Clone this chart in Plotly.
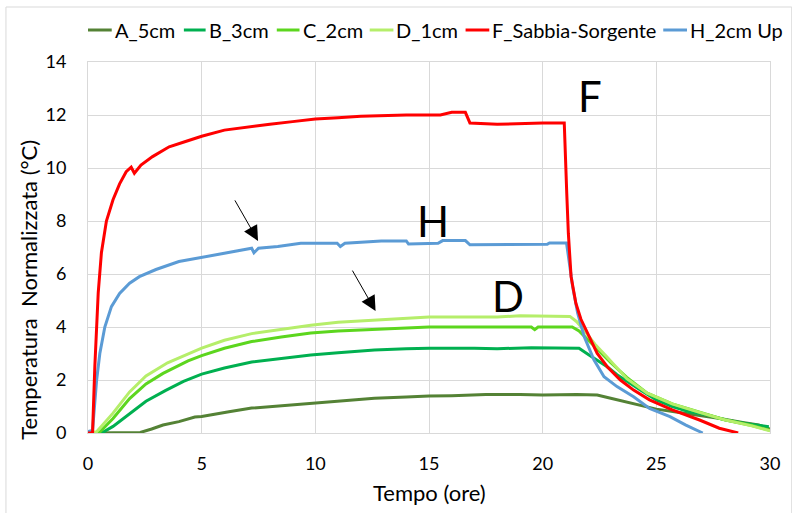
import plotly.graph_objects as go

# ---------------- data ----------------
t_A = [0, 1.5, 2.3, 2.8, 3.3, 4.0, 4.7, 5.0, 5.5, 6.2, 7.2, 8.5, 9.8, 11.0, 12.0, 12.6, 14.0, 15.0,
       16.0, 17.5, 19.0, 20.0, 21.5, 22.4, 22.9, 23.5, 24.2, 25.0, 25.8, 26.8, 27.8, 28.8, 29.5, 30.0]
y_A = [0, 0, 0.02, 0.15, 0.3, 0.43, 0.6, 0.62, 0.7, 0.8, 0.94, 1.03, 1.12, 1.2, 1.28, 1.31, 1.36, 1.4,
       1.41, 1.45, 1.45, 1.43, 1.45, 1.43, 1.33, 1.2, 1.05, 0.9, 0.8, 0.68, 0.55, 0.4, 0.3, 0.15]

t_B = [0, 0.6, 1.1, 1.83, 2.55, 3.4, 4.2, 5.0, 6.0, 7.2, 8.5, 9.8, 11.0, 12.6, 14.0, 15.0, 17.0, 18.0,
       19.5, 20.5, 21.6, 22.04, 22.4, 22.84, 23.27, 23.85, 24.3, 25.0, 25.7, 26.46, 27.2, 28.06, 28.9, 29.95]
y_B = [0, 0, 0.25, 0.72, 1.2, 1.6, 1.95, 2.22, 2.45, 2.68, 2.82, 2.94, 3.03, 3.13, 3.18, 3.2, 3.2, 3.18,
       3.22, 3.2, 3.2, 2.94, 2.75, 2.5, 2.2, 1.87, 1.62, 1.25, 1.0, 0.8, 0.69, 0.49, 0.36, 0.24]

t_C = [0, 0.5, 1.1, 1.83, 2.55, 3.3, 4.4, 5.0, 6.0, 7.2, 8.5, 9.8, 11.0, 12.6, 14.0, 15.0, 19.5, 19.65,
       19.8, 21.3, 21.6, 22.0, 22.5, 23.0, 23.7, 24.6, 25.7, 26.9, 28.0, 29.2, 30.0]
y_C = [0, 0.02, 0.55, 1.3, 1.85, 2.25, 2.72, 2.92, 3.2, 3.45, 3.62, 3.77, 3.85, 3.92, 3.98, 4.0, 4.0, 3.9,
       4.0, 4.0, 3.85, 3.5, 3.05, 2.65, 2.1, 1.5, 1.1, 0.78, 0.5, 0.28, 0.1]

t_D = [0, 0.38, 1.1, 1.83, 2.55, 3.5, 5.0, 6.0, 7.2, 8.5, 9.8, 11.0, 12.6, 14.0, 15.0, 18.0, 19.0, 21.2,
       21.5, 21.8, 22.3, 22.8, 23.7, 24.6, 25.7, 26.9, 28.0, 29.2, 30.0]
y_D = [0, 0.05, 0.75, 1.55, 2.15, 2.65, 3.2, 3.5, 3.75, 3.92, 4.07, 4.18, 4.27, 4.33, 4.38, 4.38, 4.42, 4.4,
       4.2, 3.9, 3.35, 2.9, 2.05, 1.5, 1.1, 0.78, 0.5, 0.27, 0.08]

t_F = [0, 0.2, 0.3, 0.45, 0.59, 0.81, 1.1, 1.39, 1.68, 1.9, 2.04, 2.33, 2.84, 3.57, 4.29, 5.0, 6.0, 7.0,
       8.0, 9.0, 10.0, 11.0, 12.0, 14.0, 15.5, 16.0, 16.6, 16.8, 18.0, 20.0, 20.95, 21.06, 21.13, 21.25,
       21.46, 21.68, 21.97, 22.4, 22.84, 23.42, 24.0, 24.7, 25.7, 26.9, 27.77, 28.6]
y_F = [0, 0, 2.5, 5.3, 6.8, 8.0, 8.8, 9.4, 9.86, 10.03, 9.8, 10.11, 10.43, 10.8, 11.0, 11.2, 11.43, 11.55,
       11.65, 11.75, 11.85, 11.9, 11.95, 12.0, 12.0, 12.1, 12.1, 11.7, 11.65, 11.7, 11.7, 9.04, 7.53, 5.9,
       4.9, 4.3, 3.8, 3.0, 2.5, 2.0, 1.62, 1.25, 0.87, 0.49, 0.18, 0]

t_H = [0, 0.2, 0.38, 0.52, 0.74, 1.03, 1.39, 1.83, 2.26, 2.99, 4.0, 5.0, 6.0, 7.2, 7.3, 7.5, 8.35, 9.36,
       10.96, 11.1, 11.3, 12.9, 14.0, 14.1, 15.4, 15.6, 16.6, 16.8, 20.2, 20.3, 21.05, 21.17, 21.32, 21.54,
       21.83, 22.26, 22.7, 23.27, 24.0, 24.7, 25.6, 26.3, 27.04]
y_H = [0.05, 0.1, 2.0, 3.0, 4.0, 4.77, 5.27, 5.65, 5.9, 6.17, 6.47, 6.63, 6.8, 6.97, 6.8, 6.97, 7.04, 7.16,
       7.16, 7.04, 7.16, 7.25, 7.25, 7.13, 7.16, 7.26, 7.26, 7.1, 7.12, 7.17, 7.17, 6.5, 5.52, 4.52,
       3.63, 2.75, 2.12, 1.75, 1.37, 0.93, 0.62, 0.3, 0]

series_names = ["A_5cm", "B_3cm", "C_2cm", "D_1cm", "F_Sabbia-Sorgente", "H_2cm Up"]
series_t = [t_A, t_B, t_C, t_D, t_F, t_H]
series_y = [y_A, y_B, y_C, y_D, y_F, y_H]
series_colors = ["#548235", "#00B050", "#5CD61E", "#B5EE6A", "#FF0000", "#5B9BD5"]

x_ticks = [0, 5, 10, 15, 20, 25, 30]
y_ticks = [0, 2, 4, 6, 8, 10, 12, 14]

FONT = "Lato"
W, H = 792, 513
L, R, T, B = 88, 14, 62, 80
PW, PH = W - L - R, H - T - B


def px(xp):
    return (xp - L) / PW


def py(yp):
    return (H - B - yp) / PH


fig = go.Figure()
# draw order: greens, then blue, then red on top
for i in [0, 1, 2, 3, 5, 4]:
    fig.add_trace(go.Scatter(x=series_t[i], y=series_y[i], mode="lines", name=series_names[i],
                             line=dict(color=series_colors[i], width=3), showlegend=False))

axis_common = dict(showgrid=True, gridcolor="#D9D9D9", gridwidth=1, zeroline=False,
                   showline=True, linecolor="#D9D9D9", linewidth=1, mirror=True, ticks="",
                   tickfont=dict(family=FONT, size=18, color="#000000"))
fig.update_xaxes(range=[0, 30], tickvals=x_ticks, ticklabelstandoff=14, **axis_common)
fig.update_yaxes(range=[0, 14], tickvals=y_ticks, ticklabelstandoff=17, **axis_common)

annotations = []
# axis titles
annotations.append(dict(text="Tempo (ore)", x=px(434), y=py(492), xref="paper", yref="paper",
                        xanchor="center", yanchor="middle",
                        showarrow=False, font=dict(family=FONT, size=22, color="#000")))
annotations.append(dict(text="Temperatura\u00a0 Normalizzata (°C)", x=px(27), y=py(290), xref="paper",
                        yref="paper", textangle=-90, showarrow=False,
                        xanchor="center", yanchor="middle",
                        font=dict(family=FONT, size=22, color="#000")))
# big letters
for letter, lx, ly in [("F", 22.09, 12.72), ("H", 15.17, 8.0), ("D", 18.48, 5.17)]:
    annotations.append(dict(text=letter, x=lx, y=ly, xref="x", yref="y", showarrow=False,
                            xanchor="center", yanchor="middle",
                            font=dict(family=FONT, size=42, color="#000")))
# arrows
for ax_t, ax_y in [(7.48, 7.25), (12.65, 4.6)]:
    annotations.append(dict(text="", x=ax_t, y=ax_y, xref="x", yref="y", showarrow=True,
                            ax=-24, ay=-42, arrowhead=2, arrowsize=3, arrowwidth=1,
                            arrowcolor="#000"))

# manual legend (line start px, text start px)
legend_line_x = [88, 185, 279, 373, 470, 670]
legend_text_x = [113, 208, 303, 398, 495, 695]
shapes = []
for name, col, lx, tx in zip(series_names, series_colors, legend_line_x, legend_text_x):
    shapes.append(dict(type="line", xref="paper", yref="paper", x0=px(lx), x1=px(tx - 1),
                       y0=py(30), y1=py(30), line=dict(color=col, width=3)))
    annotations.append(dict(text=name, x=px(tx), y=py(30), xref="paper", yref="paper",
                            xanchor="left", yanchor="middle", showarrow=False,
                            font=dict(family=FONT, size=20, color="#000")))

# chart border
shapes.append(dict(type="rect", xref="paper", yref="paper", x0=px(5), x1=px(800), y0=py(530),
                   y1=py(7), line=dict(color="#D9D9D9", width=1)))

fig.update_layout(width=W, height=H, margin=dict(l=L, r=R, t=T, b=B),
                  paper_bgcolor="white", plot_bgcolor="white",
                  annotations=annotations, shapes=shapes, showlegend=False)

fig.write_html("out.html", config={"displayModeBar": False},
               post_script="document.body.style.margin='0';")
